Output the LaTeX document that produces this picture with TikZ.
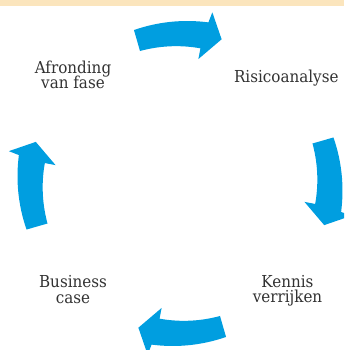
\documentclass[tikz,border=0pt]{standalone}
\usepackage{fontspec}
\setmainfont[FakeStretch=0.92]{DejaVu Serif}
\definecolor{arrowblue}{RGB}{0,158,224}
\definecolor{bandyellow}{RGB}{251,229,189}
\definecolor{textgray}{RGB}{50,50,50}
\tikzset{
  lbl/.style={text=textgray, font={\fontsize{12.35pt}{11.8pt}\selectfont\lineskiplimit=-20pt},
    align=center, inner sep=0pt, anchor=base},
  cycarrow/.pic={
    \fill[arrowblue] plot[domain=106.7:80.0, samples=30, variable=\t] (\t:{160.2+(106.7-\t)*0.1273})
      -- (79.3:174.2) -- (73.9:150.1) -- (81.6:125.8) -- (81.4:136.7)
      -- plot[domain=81.4:106.8, samples=30, variable=\t] (\t:{136.7+(\t-81.4)*0.0669}) -- cycle;
  }
}
\begin{document}
\begin{tikzpicture}[x=0.75pt,y=0.75pt]
  \useasboundingbox (0,0) rectangle (344,350);
  \clip (0,0) rectangle (344,350);
  \fill[bandyellow] (0,344) rectangle (344,350);
  \coordinate (c) at (180,166.5);
  \pic[rotate=0] at (c) {cycarrow};
  \pic[rotate=-90] at (c) {cycarrow};
  \pic[rotate=-180] at (c) {cycarrow};
  \pic[rotate=90] at (c) {cycarrow};
  \node[lbl] (afr) at (73,261.2) {Afronding\\van fase};
  \node[lbl] (ris) at (286.3,267.3) {Risicoanalyse};
  \node[lbl] (bus) at (73,46.6) {Business\\case};
  \node[lbl] (ken) at (287.5,47) {Kennis\\verrijken};
\end{tikzpicture}
\end{document}
